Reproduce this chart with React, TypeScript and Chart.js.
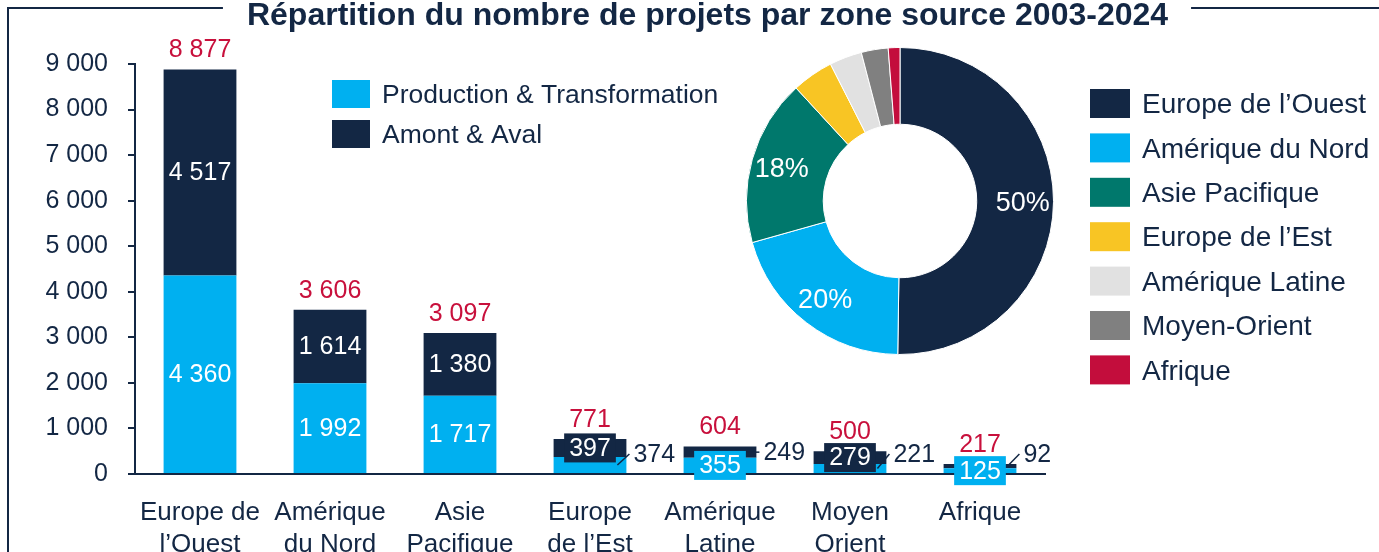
import React, { useEffect, useRef } from "react";
import { Chart, registerables } from "chart.js";

Chart.register(...registerables);

const FONT = "'Liberation Sans', Arial, Helvetica, sans-serif";
const NAVY = "#132744";
const LIGHT_BLUE = "#00B0F0";
const RED = "#C8103C";

const TITLE = "Répartition du nombre de projets par zone source 2003-2024";

const categories = [
  ["Europe de", "l’Ouest"],
  ["Amérique", "du Nord"],
  ["Asie", "Pacifique"],
  ["Europe", "de l’Est"],
  ["Amérique", "Latine"],
  ["Moyen", "Orient"],
  ["Afrique"],
];
const seriesNames = ["Production & Transformation", "Amont & Aval"];
const production = [4360, 1992, 1717, 374, 355, 221, 125];
const amontAval = [4517, 1614, 1380, 397, 249, 279, 92];
const totals = [8877, 3606, 3097, 771, 604, 500, 217];

const yMin = 0;
const yMax = 9000;
const yStep = 1000;

const regions = [
  "Europe de l’Ouest",
  "Amérique du Nord",
  "Asie Pacifique",
  "Europe de l’Est",
  "Amérique Latine",
  "Moyen-Orient",
  "Afrique",
];
const regionColors = ["#132744", "#00B0F0", "#00786C", "#F8C524", "#E1E1E1", "#808080", "#C30D3C"];

const fmt = (v: number) => String(Math.round(v)).replace(/\B(?=(\d{3})+(?!\d))/g, "\u00a0");

const decorPlugin = {
  id: "decor",
  afterDraw(chart: any) {
    const ctx = chart.ctx;
    ctx.save();
    // title
    ctx.font = `bold 32px ${FONT}`;
    const tw = ctx.measureText(TITLE).width;
    const cx = 707.5;
    ctx.fillStyle = NAVY;
    ctx.textAlign = "center";
    ctx.textBaseline = "alphabetic";
    ctx.fillText(TITLE, cx, 25);
    // frame
    ctx.strokeStyle = NAVY;
    ctx.lineWidth = 2;
    ctx.beginPath();
    ctx.moveTo(8, chart.height + 5);
    ctx.lineTo(8, 8);
    ctx.lineTo(cx - tw / 2 - 24, 8);
    ctx.moveTo(cx + tw / 2 + 23, 8);
    ctx.lineTo(chart.width + 5, 8);
    ctx.stroke();
    // series legend
    ctx.font = `26.5px ${FONT}`;
    ctx.textAlign = "left";
    ctx.textBaseline = "middle";
    chart.data.datasets.forEach((ds: any, k: number) => {
      const cy = 94 + k * 40;
      ctx.fillStyle = ds.backgroundColor;
      ctx.fillRect(332, cy - 14, 38, 28);
      ctx.fillStyle = NAVY;
      ctx.fillText(ds.label, 382, cy + 2);
    });
    ctx.restore();
  },
};

const barLabelsPlugin = {
  id: "barLabels",
  afterDraw(chart: any) {
    const ctx = chart.ctx;
    const zeroY = chart.scales.y.getPixelForValue(0);
    const metas = [chart.getDatasetMeta(0), chart.getDatasetMeta(1)];
    ctx.save();
    ctx.font = `25px ${FONT}`;
    ctx.textBaseline = "middle";
    categories.forEach((_, i) => {
      const segs = metas.map((m: any, k: number) => {
        const p = m.data[i].getProps(["x", "y", "base", "width"], true);
        const top = Math.min(p.y, p.base);
        const bottom = Math.max(p.y, p.base);
        return {
          x: p.x,
          top,
          bottom,
          mid: (top + bottom) / 2,
          half: p.width / 2,
          value: chart.data.datasets[k].data[i] as number,
          color: chart.data.datasets[k].backgroundColor as string,
        };
      });
      const barTop = Math.min(segs[0].top, segs[1].top);
      const barH = zeroY - barTop;
      ctx.fillStyle = RED;
      ctx.textAlign = "center";
      ctx.fillText(fmt(totals[i]), segs[0].x, barTop - 19);
      if (barH > 60) {
        segs.forEach((s) => {
          ctx.fillStyle = "#ffffff";
          ctx.textAlign = "center";
          ctx.fillText(fmt(s.value), s.x, s.mid + 1);
        });
      } else {
        const bigIdx = segs[0].value >= segs[1].value ? 0 : 1;
        const b = segs[bigIdx];
        const o = segs[1 - bigIdx];
        const txt = fmt(b.value);
        const w = ctx.measureText(txt).width + 10;
        ctx.fillStyle = b.color;
        ctx.fillRect(b.x - w / 2, b.mid - 14.5, w, 29);
        ctx.fillStyle = "#ffffff";
        ctx.textAlign = "center";
        ctx.fillText(txt, b.x, b.mid + 1);
        const right = o.x + o.half;
        const ly = Math.min(o.mid, zeroY - 20);
        ctx.strokeStyle = NAVY;
        ctx.lineWidth = 1.5;
        ctx.beginPath();
        ctx.moveTo(right - 9, o.mid);
        ctx.lineTo(right + 3, ly);
        ctx.stroke();
        ctx.fillStyle = NAVY;
        ctx.textAlign = "left";
        ctx.fillText(fmt(o.value), right + 7, ly + 1);
      }
    });
    ctx.restore();
  },
};

const donutPlugin = {
  id: "donutDecor",
  afterDraw(chart: any) {
    const ctx = chart.ctx;
    const meta = chart.getDatasetMeta(0);
    const data = chart.data.datasets[0].data as number[];
    const sum = data.reduce((a, b) => a + b, 0);
    ctx.save();
    ctx.font = `27px ${FONT}`;
    ctx.textAlign = "center";
    ctx.textBaseline = "middle";
    ctx.fillStyle = "#ffffff";
    meta.data.forEach((arc: any, i: number) => {
      const share = data[i] / sum;
      if (share < 0.1) return;
      const p = arc.getProps(["x", "y", "startAngle", "endAngle", "innerRadius", "outerRadius"], true);
      const a = (p.startAngle + p.endAngle) / 2;
      const r = p.innerRadius + 0.6 * (p.outerRadius - p.innerRadius);
      ctx.fillText(Math.round(share * 100) + "%", p.x + r * Math.cos(a), p.y + r * Math.sin(a) + 2);
    });
    // legend
    ctx.font = `28px ${FONT}`;
    ctx.textAlign = "left";
    chart.data.labels.forEach((lab: string, i: number) => {
      const cy = 103.5 + i * 44.4;
      ctx.fillStyle = chart.data.datasets[0].backgroundColor[i];
      ctx.fillRect(350, cy - 14.5, 40, 29);
      ctx.fillStyle = NAVY;
      ctx.fillText(lab, 402, cy + 2);
    });
    ctx.restore();
  },
};

export default function App() {
  const barRef = useRef<HTMLCanvasElement>(null);
  const donutRef = useRef<HTMLCanvasElement>(null);

  useEffect(() => {
    const bar = new Chart(barRef.current as HTMLCanvasElement, {
      type: "bar",
      data: {
        labels: categories,
        datasets: [
          { label: seriesNames[0], data: production, backgroundColor: LIGHT_BLUE, barPercentage: 0.56, categoryPercentage: 1 },
          { label: seriesNames[1], data: amontAval, backgroundColor: NAVY, barPercentage: 0.56, categoryPercentage: 1 },
        ],
      },
      options: {
        responsive: false,
        animation: false,
        events: [],
        layout: { padding: { left: 0, right: 334, top: 64, bottom: 0 } },
        plugins: { legend: { display: false }, tooltip: { enabled: false }, title: { display: false } },
        scales: {
          x: {
            stacked: true,
            z: 1,
            grid: { display: false, drawTicks: false },
            border: { display: true, color: NAVY, width: 2 },
            ticks: {
              color: NAVY,
              font: { family: FONT, size: 26, lineHeight: 1.23 },
              padding: 23,
              maxRotation: 0,
              autoSkip: false,
            },
            afterFit: (s: any) => {
              s.height = 78;
            },
          },
          y: {
            stacked: true,
            min: yMin,
            max: yMax,
            grid: { display: true, drawOnChartArea: false, drawTicks: true, tickLength: 7, color: NAVY, lineWidth: 2 },
            border: { display: true, color: NAVY, width: 2 },
            ticks: {
              stepSize: yStep,
              color: NAVY,
              font: { family: FONT, size: 25 },
              padding: 20,
              callback: (v: any) => fmt(Number(v)),
            },
            afterFit: (s: any) => {
              s.width = 135;
            },
          },
        },
      } as any,
      plugins: [decorPlugin, barLabelsPlugin],
    });

    const donut = new Chart(donutRef.current as HTMLCanvasElement, {
      type: "doughnut",
      data: {
        labels: regions,
        datasets: [{ data: totals, backgroundColor: regionColors, borderColor: "#ffffff", borderWidth: 1 }],
      },
      options: {
        responsive: false,
        animation: false,
        events: [],
        cutout: "50%",
        layout: { padding: { left: 6, right: 325, top: 47, bottom: 45 } },
        plugins: { legend: { display: false }, tooltip: { enabled: false } },
      } as any,
      plugins: [donutPlugin],
    });

    return () => {
      bar.destroy();
      donut.destroy();
    };
  }, []);

  return (
    <div style={{ position: "absolute", left: 0, top: 0, width: 1379, height: 552, background: "#ffffff", overflow: "hidden" }}>
      <canvas ref={barRef} width={1379} height={552} style={{ position: "absolute", left: 0, top: 0 }} />
      <canvas ref={donutRef} width={639} height={400} style={{ position: "absolute", left: 740, top: 0 }} />
    </div>
  );
}
